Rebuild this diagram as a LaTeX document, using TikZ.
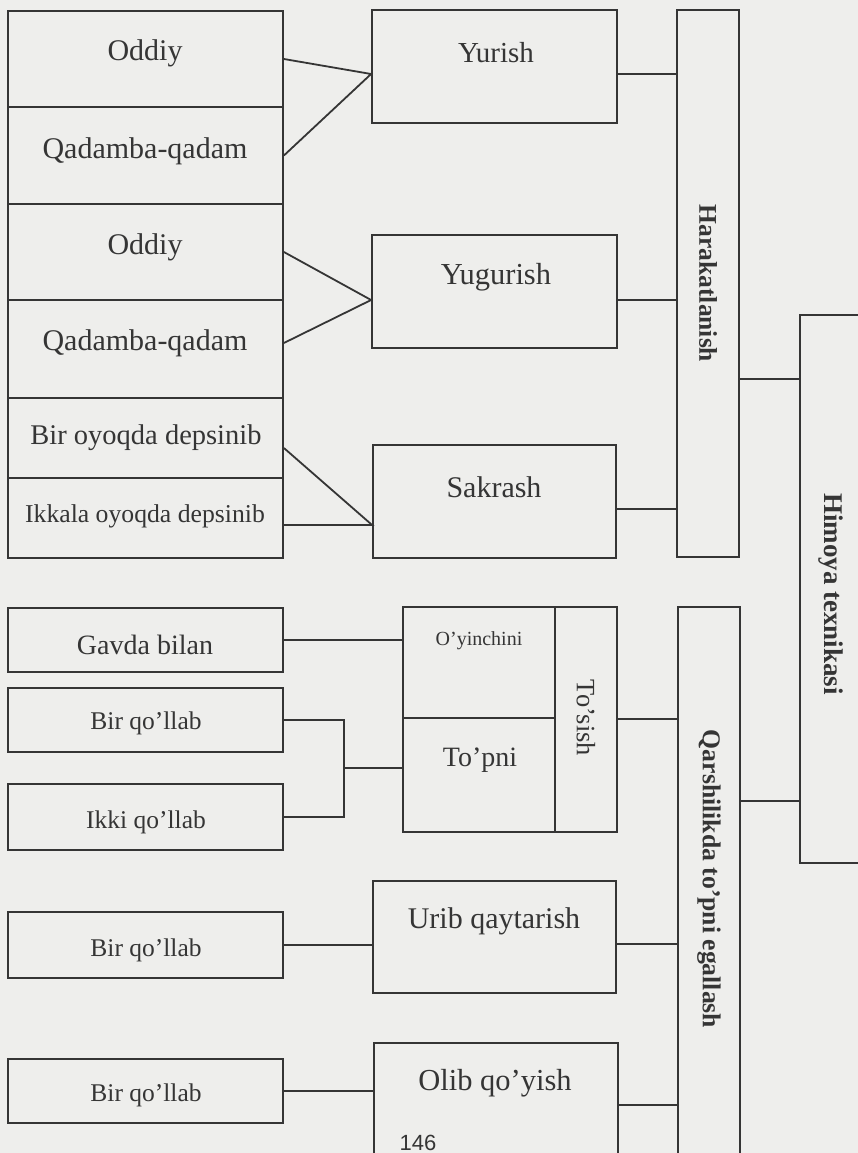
\documentclass[tikz,border=0pt]{standalone}
\usepackage{fontspec}
\setmainfont{Liberation Serif}
\newfontfamily\numfont{Liberation Sans}
\usetikzlibrary{fit,calc}
\definecolor{ink}{HTML}{353535}
\definecolor{paper}{HTML}{EEEEEC}
\newcommand{\fsz}[1]{\fontsize{#1}{#1}\selectfont}

\begin{document}
\begin{tikzpicture}[
        x=1pt,
        y=-1pt,
        cell/.style={
            draw=ink,
            line width=1.8pt,
            inner sep=0pt
        },
        txt/.style={
            text=ink,
            inner sep=0pt
        },
        side/.style={
            txt,
            rotate=-90
        },
        link/.style={
            draw=ink,
            line width=1.8pt
        }
    ]

    \useasboundingbox (0,0) rectangle (858,1153);
    \fill[paper] (0,0) rectangle (858,1153);
    \clip (0,0) rectangle (858,1153);

    % left column
    \foreach \n/\ya/\yb in {o1/11/107, q1/107/204, o2/204/300, q2/300/398,
                            bir/398/478, ikk/478/558, gav/608/672, bq1/688/752,
                            iq/784/850, bq2/912/978, bq3/1059/1123}
        \node[cell, fit={(8,\ya) (283,\yb)}] (\n) {};

    \node[txt, font=\fsz{30}] (o1t) at (145,53) {Oddiy};
    \node[txt, font=\fsz{30}] (q1t) at (145,151) {Qadamba-qadam};
    \node[txt, font=\fsz{30}] (o2t) at (145,247) {Oddiy};
    \node[txt, font=\fsz{30}] (q2t) at (145,343) {Qadamba-qadam};
    \node[txt, font=\fsz{28.5}] (birt) at (146,438) {Bir oyoqda depsinib};
    \node[txt, font=\fsz{25.7}] (ikkt) at (145,516) {Ikkala oyoqda depsinib};
    \node[txt, font=\fsz{28}] (gavt) at (145,645) {Gavda bilan};
    \node[txt, font=\fsz{25.5}] (bq1t) at (146,723) {Bir qo’llab};
    \node[txt, font=\fsz{25.5}] (iqt) at (146,822) {Ikki qo’llab};
    \node[txt, font=\fsz{25.5}] (bq2t) at (146,950) {Bir qo’llab};
    \node[txt, font=\fsz{25.5}] (bq3t) at (146,1095) {Bir qo’llab};

    % middle column
    \node[cell, fit={(372,10) (617,123)}] (yur) {};
    \node[cell, fit={(372,235) (617,348)}] (yug) {};
    \node[cell, fit={(373,445) (616,558)}] (sak) {};
    \node[cell, fit={(403,607) (555,718)}] (oyi) {};
    \node[cell, fit={(403,718) (555,832)}] (tpn) {};
    \node[cell, fit={(555,607) (617,832)}] (tos) {};
    \node[cell, fit={(373,881) (616,993)}] (urib) {};
    \node[cell, fit={(374,1043) (618,1190)}] (olib) {};

    \node[txt, font=\fsz{29}] (yurt) at (496,53) {Yurish};
    \node[txt, font=\fsz{30.5}] (yugt) at (496,277) {Yugurish};
    \node[txt, font=\fsz{30}] (sakt) at (494,487) {Sakrash};
    \node[txt, font=\fsz{20}] (oyit) at (479,641) {O’yinchini};
    \node[txt, font=\fsz{28}] (tpnt) at (480,760) {To’pni};
    \node[side, font=\fsz{26.5}] (tost) at (586,718) {To’sish};
    \node[txt, font=\fsz{30}] (uribt) at (494,921) {Urib qaytarish};
    \node[txt, font=\fsz{30.5}] (olibt) at (495,1083) {Olib qo’yish};
    \node[txt, font=\numfont\fsz{22}] (pgno) at (418,1143) {146};

    % right column
    \node[cell, fit={(677,10) (739,557)}] (har) {};
    \node[cell, fit={(678,607) (740,1190)}] (qar) {};
    \node[cell, fit={(800,315) (862,863)}] (him) {};

    \node[side, font=\bfseries\fsz{25.5}] (hart) at (708,283.5) {Harakatlanish};
    \node[side, font=\bfseries\fsz{25.7}] (qart) at (709,879) {Qarshilikda to’pni egallash};
    \node[side, font=\bfseries\fsz{27}] (himt) at (831,594) {Himoya texnikasi};

    % fan-in to the middle boxes
    \coordinate (yurin) at ([yshift=-7.5pt]yur.west);
    \coordinate (yugin) at ([yshift=-8.5pt]yug.west);
    \coordinate (sakin) at ([yshift=-23.5pt]sak.west);
    \draw[link] (o1.east) -- (yurin) -- (q1.east);
    \draw[link] (o2.east) -- (yugin) -- ([yshift=6pt]q2.east);
    \draw[link] ([yshift=-10pt]bir.east) -- (sakin) -- (sakin -| ikk.east);

    \foreach \n/\s in {yur/-7.5, yug/-8.5, sak/-7.5}{
        \coordinate (\n out) at ([yshift=\s pt]\n.east);
        \draw[link] (\n out) -- (\n out -| har.west);
    }

    % into Himoya texnikasi
    \coordinate (himin1) at ([yshift=-65pt]him.north west);
    \coordinate (himin2) at ([yshift=63pt]him.south west);
    \draw[link] (himin1 -| har.east) -- (himin1);
    \draw[link] (himin2 -| qar.east) -- (himin2);

    % lower part
    \draw[link] (gav.east) -- (gav.east -| oyi.west);
    \coordinate (knee) at ([xshift=60pt,yshift=0.5pt]$(bq1.east)!0.5!(iq.east)$);
    \draw[link] (bq1.east) -| (knee) |- (iq.east);
    \draw[link] (knee) -- (knee -| tpn.west);
    \coordinate (tosout) at ([yshift=0.5pt]tos.east);
    \draw[link] (tosout) -- (tosout -| qar.west);
    \draw[link] (bq2.east) -- (bq2.east -| urib.west);
    \coordinate (uribout) at ([yshift=-7pt]urib.east);
    \draw[link] (uribout) -- (uribout -| qar.west);
    \draw[link] (bq3.east) -- (bq3.east -| olib.west);
    \coordinate (olibout) at ([yshift=-63pt]olib.north east);
    \draw[link] (olibout) -- (olibout -| qar.west);

\end{tikzpicture}
\end{document}
